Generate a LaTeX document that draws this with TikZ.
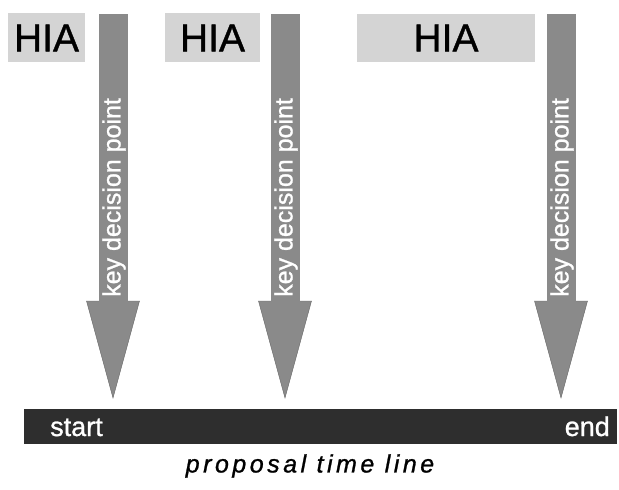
\documentclass[tikz,border=0pt]{standalone}
\usepackage{fontspec}
\setmainfont[FakeBold=1]{Liberation Sans}
\newfontfamily\spacedit[LetterSpace=14,FakeBold=1]{Liberation Sans}
\begin{document}
\begin{tikzpicture}[x=1pt,y=1pt,
  hialabel/.style={font=\fontsize{39}{39}\selectfont, inner sep=0pt},
  kdparrow/.style={fill=arrowgray, draw=black!60, line width=0.4pt},
  kdplabel/.style={text=white, rotate=90, anchor=west, inner sep=0pt,
    font=\fontsize{25}{25}\selectfont},
  barlabel/.style={text=white, inner sep=0pt, font=\fontsize{27}{27}\selectfont}]
\definecolor{hiagray}{HTML}{D4D4D4}
\definecolor{arrowgray}{HTML}{8A8A8A}
\definecolor{bargray}{HTML}{2E2E2E}
\useasboundingbox (0,0) rectangle (619,-490);

% HIA boxes
\fill[hiagray] (8,-13) rectangle (85,-62);
\node[hialabel] (hia1) at (46.5,-38) {HIA};
\fill[hiagray] (165,-13) rectangle (260,-62);
\node[hialabel] (hia2) at (212.5,-38) {HIA};
\fill[hiagray] (357,-14) rectangle (535,-62);
\node[hialabel] (hia3) at (446,-38) {HIA};

% key decision point arrows: shaft plus triangular head
\foreach \c/\n in {113/a, 285/b, 561/c}{
  \fill[arrowgray] (\c-14.5,-14) rectangle (\c+14.5,-302);
  \filldraw[kdparrow] (\c-26.5,-301) -- (\c+26.5,-301) -- (\c,-398) -- cycle;
  \fill[arrowgray] (\c-14.5,-296) rectangle (\c+14.5,-303);
  \node[kdplabel] (kdp\n) at (\c+1,-297) {key decision point};
}

% time line bar
\fill[bargray] (24,-409) rectangle (617,-444);
\node[barlabel, anchor=base west] (start) at (50,-436) {start};
\node[barlabel, anchor=base east] (end) at (610,-436) {end};

% caption
\node[font=\fontsize{25}{25}\selectfont\spacedit\itshape, inner sep=0pt] (caption) at (310,-466) {proposal time line};
\end{tikzpicture}
\end{document}
